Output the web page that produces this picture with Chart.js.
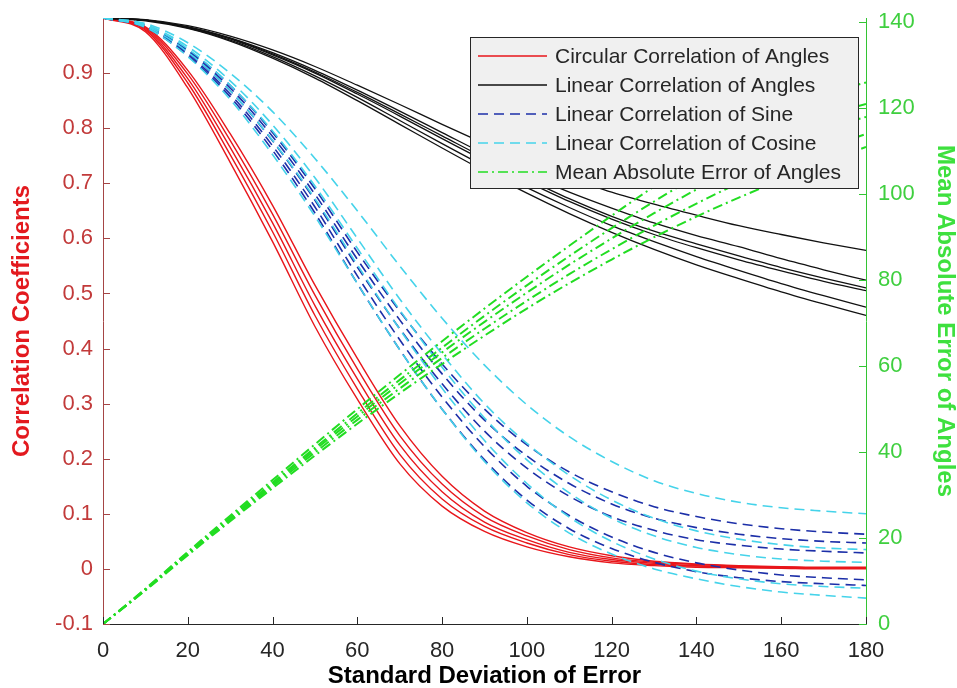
<!DOCTYPE html>
<html><head><meta charset="utf-8">
<script src="https://cdn.jsdelivr.net/npm/chart.js@4.4.1/dist/chart.umd.min.js"></script>
<style>html,body{margin:0;padding:0;background:#fff;overflow:hidden}canvas{display:block}</style>
</head><body>
<canvas id="c" width="957" height="688"></canvas>
<script>
// ---- data ----
const sigma = [0,10,20,30,40,50,60,70,80,90,100,110,120,130,140,150,160,170,180];
const xTicks = [0,20,40,60,80,100,120,140,160,180];
const leftTicks = [-0.1,0,0.1,0.2,0.3,0.4,0.5,0.6,0.7,0.8,0.9];
const rightTicks = [0,20,40,60,80,100,120,140];

const circ1 = [1.0,0.984,0.905,0.79,0.66,0.515,0.382,0.26,0.168,0.105,0.066,0.04,0.024,0.014,0.009,0.006,0.004,0.003,0.003];
const circ2 = [1.0,0.982,0.898,0.778,0.644,0.497,0.363,0.242,0.154,0.095,0.06,0.035,0.02,0.012,0.008,0.005,0.003,0.002,0.002];
const circ3 = [1.0,0.98,0.89,0.765,0.628,0.478,0.345,0.225,0.14,0.085,0.053,0.03,0.017,0.01,0.006,0.004,0.003,0.002,0.002];
const circ4 = [1.0,0.978,0.882,0.752,0.612,0.46,0.327,0.208,0.127,0.077,0.047,0.026,0.014,0.008,0.005,0.003,0.002,0.001,0.001];
const circ5 = [1.0,0.975,0.873,0.738,0.594,0.44,0.308,0.191,0.114,0.068,0.04,0.022,0.011,0.006,0.003,0.002,0.001,0.0,0.0];

const lin1 = [1,0.997,0.986,0.967,0.942,0.912,0.878,0.843,0.807,0.772,0.738,0.71,0.684,0.662,0.642,0.623,0.607,0.592,0.578];
const lin2 = [1,0.996,0.984,0.964,0.937,0.905,0.869,0.831,0.792,0.753,0.716,0.684,0.655,0.628,0.605,0.585,0.563,0.543,0.524];
const lin3 = [1,0.996,0.984,0.963,0.935,0.902,0.865,0.826,0.786,0.746,0.708,0.672,0.64,0.613,0.59,0.568,0.547,0.528,0.51];
const lin4 = [1,0.996,0.983,0.962,0.933,0.9,0.862,0.822,0.781,0.741,0.703,0.667,0.635,0.607,0.583,0.561,0.541,0.522,0.505];
const lin5 = [1,0.996,0.982,0.96,0.93,0.895,0.856,0.814,0.772,0.731,0.692,0.656,0.623,0.594,0.567,0.542,0.518,0.496,0.475];
const lin6 = [1,0.995,0.981,0.958,0.927,0.891,0.85,0.807,0.764,0.722,0.682,0.645,0.611,0.58,0.552,0.527,0.503,0.481,0.46];

const sin1 = [1,0.987,0.942,0.878,0.792,0.69,0.575,0.468,0.372,0.29,0.225,0.176,0.14,0.113,0.095,0.082,0.073,0.067,0.063];
const sin2 = [1,0.986,0.94,0.873,0.785,0.68,0.562,0.452,0.354,0.27,0.205,0.155,0.118,0.092,0.075,0.063,0.055,0.05,0.047];
const sin3 = [1,0.985,0.937,0.868,0.777,0.669,0.548,0.436,0.336,0.25,0.183,0.132,0.095,0.07,0.053,0.043,0.036,0.032,0.029];
const sin4 = [1,0.984,0.934,0.862,0.768,0.657,0.532,0.416,0.312,0.222,0.15,0.097,0.058,0.03,0.011,-0.002,-0.011,-0.016,-0.02];
const sin5 = [1,0.983,0.931,0.857,0.76,0.646,0.518,0.398,0.29,0.198,0.125,0.073,0.037,0.012,-0.005,-0.016,-0.023,-0.027,-0.03];

const cos1 = [1,0.99,0.955,0.9,0.83,0.745,0.65,0.55,0.455,0.37,0.298,0.24,0.195,0.16,0.137,0.121,0.111,0.105,0.10];
const cos2 = [1,0.988,0.948,0.886,0.806,0.71,0.6,0.49,0.39,0.3,0.228,0.17,0.125,0.092,0.069,0.054,0.044,0.038,0.035];
const cos3 = [1,0.987,0.944,0.878,0.795,0.695,0.582,0.47,0.366,0.274,0.198,0.138,0.092,0.06,0.039,0.026,0.018,0.014,0.012];
const cos4 = [1,0.985,0.938,0.868,0.778,0.672,0.552,0.435,0.328,0.233,0.155,0.094,0.05,0.018,-0.004,-0.018,-0.027,-0.032,-0.035];
const cos5 = [1,0.983,0.93,0.852,0.752,0.64,0.518,0.398,0.29,0.195,0.12,0.065,0.027,0.0,-0.018,-0.032,-0.042,-0.048,-0.053];

const mae1 = [0,8.2,16.8,25.2,33.5,41.8,50,58,65.8,73.4,80.8,88,95,101.8,108.3,114.5,119.6,123.3,126];
const mae2 = [0,8.1,16.6,24.8,32.9,41,49,56.8,64.3,71.7,78.8,85.6,92.1,98.3,104.2,109.7,114.6,118.3,121];
const mae3 = [0,8,16.4,24.5,32.5,40.5,48.3,55.9,63.2,70.3,77.1,83.6,89.7,95.6,101.1,106.3,111,115,118];
const mae4 = [0,7.9,16.2,24.2,32.1,39.9,47.5,54.8,61.9,68.7,75.2,81.4,87.2,92.7,97.8,102.6,106.9,110.6,114];
const mae5 = [0,7.8,16,23.9,31.6,39.2,46.6,53.7,60.5,67.1,73.4,79.3,84.8,90,94.8,99.2,103.3,107.3,111];

const legendLabels = ['Circular Correlation of Angles','Linear Correlation of Angles','Linear Correlation of Sine','Linear Correlation of Cosine','Mean Absolute Error of Angles'];

// ---- styles ----
const FONT = "'Liberation Sans', Arial, Helvetica, sans-serif";
const RED = '#e8161b', BLACK = '#111111', BLUE = '#1c2fa8', CYAN = '#45d3ea', GREEN = '#22dd22';
const styles = [
  {color: RED, dash: [], width: 1.4},
  {color: BLACK, dash: [], width: 1.3},
  {color: BLUE, dash: [10,6], width: 1.6},
  {color: CYAN, dash: [10,6], width: 1.6},
  {color: GREEN, dash: [10,4,2,4], width: 2}
];

const pts = arr => arr.map((v,i) => ({x: sigma[i], y: v}));
function mk(arr, g, axis, order){
  const s = styles[g];
  return {data: pts(arr), borderColor: s.color, borderDash: s.dash, borderWidth: s.width,
    pointRadius: 0, fill: false, cubicInterpolationMode: 'monotone', yAxisID: axis, order: order};
}
const datasets = [];
[circ1,circ2,circ3,circ4,circ5].forEach(a => datasets.push(mk(a,0,'y',5)));
[lin1,lin2,lin3,lin4,lin5,lin6].forEach(a => datasets.push(mk(a,1,'y',4)));
[sin1,sin2,sin3,sin4,sin5].forEach(a => datasets.push(mk(a,2,'y',3)));
[cos1,cos2,cos3,cos4,cos5].forEach(a => datasets.push(mk(a,3,'y',2)));
[mae1,mae2,mae3,mae4,mae5].forEach(a => datasets.push(mk(a,4,'y2',1)));

const inwardTicks = {
  id: 'inwardTicks',
  afterDraw(chart){
    const ctx = chart.ctx, a = chart.chartArea, L = 7;
    ctx.save(); ctx.lineWidth = 1; ctx.setLineDash([]);
    const sx = chart.scales.x;
    ctx.strokeStyle = '#262626';
    sx.ticks.forEach(t => { const p = Math.round(sx.getPixelForValue(t.value)) + 0.5;
      ctx.beginPath(); ctx.moveTo(p, a.bottom); ctx.lineTo(p, a.bottom - L); ctx.stroke(); });
    const sy = chart.scales.y;
    ctx.strokeStyle = '#a54545';
    sy.ticks.forEach(t => { const p = Math.round(sy.getPixelForValue(t.value)) + 0.5;
      ctx.beginPath(); ctx.moveTo(a.left, p); ctx.lineTo(a.left + L, p); ctx.stroke(); });
    const sr = chart.scales.y2;
    ctx.strokeStyle = '#33c433';
    sr.ticks.forEach(t => { const p = Math.round(sr.getPixelForValue(t.value)) + 0.5;
      ctx.beginPath(); ctx.moveTo(a.right, p); ctx.lineTo(a.right - L, p); ctx.stroke(); });
    ctx.restore();
  }
};

const boxLegend = {
  id: 'boxLegend',
  afterDraw(chart){
    const ctx = chart.ctx, a = chart.chartArea;
    const bx = a.right - 396, by = a.top + 19, bw = 388, bh = 151;
    ctx.save();
    ctx.fillStyle = '#f0f0f0'; ctx.fillRect(bx, by, bw, bh);
    ctx.strokeStyle = '#262626'; ctx.lineWidth = 1; ctx.setLineDash([]);
    ctx.strokeRect(Math.round(bx)+0.5, Math.round(by)+0.5, bw, bh);
    ctx.font = '21px ' + FONT; ctx.textBaseline = 'middle'; ctx.fillStyle = '#262626';
    legendLabels.forEach((lab, i) => {
      const y = by + 19 + i * 29, s = styles[i];
      ctx.strokeStyle = s.color; ctx.lineWidth = Math.min(s.width, 1.5); ctx.setLineDash(s.dash);
      ctx.beginPath(); ctx.moveTo(bx + 8, y); ctx.lineTo(bx + 77, y); ctx.stroke();
      ctx.fillText(lab, bx + 85, y + 1);
    });
    ctx.restore();
  }
};

const noVPad = s => { s.paddingTop = 0; s.paddingBottom = 0; };

new Chart(document.getElementById('c'), {
  type: 'line',
  data: {datasets},
  plugins: [inwardTicks, boxLegend],
  options: {
    responsive: false, animation: false, devicePixelRatio: 1,
    layout: {padding: {top: 18, left: 0, right: 0, bottom: 0}},
    plugins: {legend: {display: false}, tooltip: {enabled: false}},
    scales: {
      x: {
        type: 'linear', min: 0, max: 180,
        afterBuildTicks: s => { s.ticks = xTicks.map(v => ({value: v})); },
        afterFit: s => { s.height = 64; s.paddingLeft = 0; s.paddingRight = 0; },
        grid: {display: false, drawTicks: false},
        border: {display: true, color: '#262626', width: 1},
        ticks: {color: '#262626', font: {family: FONT, size: 22}, padding: 14, maxRotation: 0, autoSkip: false},
        title: {display: true, text: 'Standard Deviation of Error', color: '#000', font: {family: FONT, size: 24, weight: 'bold'}, padding: {top: 0, bottom: -3}}
      },
      y: {
        position: 'left', min: -0.1, max: 1.0,
        afterBuildTicks: s => { s.ticks = leftTicks.map(v => ({value: v})); },
        afterFit: s => { s.width = 103; noVPad(s); },
        grid: {display: false, drawTicks: false},
        border: {display: true, color: '#a54545', width: 1},
        ticks: {color: '#c23a3a', font: {family: FONT, size: 22}, padding: 10, autoSkip: false,
          callback: v => String(Math.round(v * 10) / 10)},
        title: {display: true, text: 'Correlation Coefficients', color: '#e3191e', font: {family: FONT, size: 24, weight: 'bold'}, padding: {top: 8, bottom: 0}}
      },
      y2: {
        position: 'right', min: 0, max: 141,
        afterBuildTicks: s => { s.ticks = rightTicks.map(v => ({value: v})); },
        afterFit: s => { s.width = 91; noVPad(s); },
        grid: {display: false, drawTicks: false},
        border: {display: true, color: '#33c433', width: 1},
        ticks: {color: '#3fcf3f', font: {family: FONT, size: 22}, padding: 12, autoSkip: false},
        title: {display: true, text: 'Mean Absolute Error of Angles', color: '#3ee03e', font: {family: FONT, size: 24, weight: 'bold'}, padding: {top: -2, bottom: 0}}
      }
    }
  }
});
</script>
</body></html>
